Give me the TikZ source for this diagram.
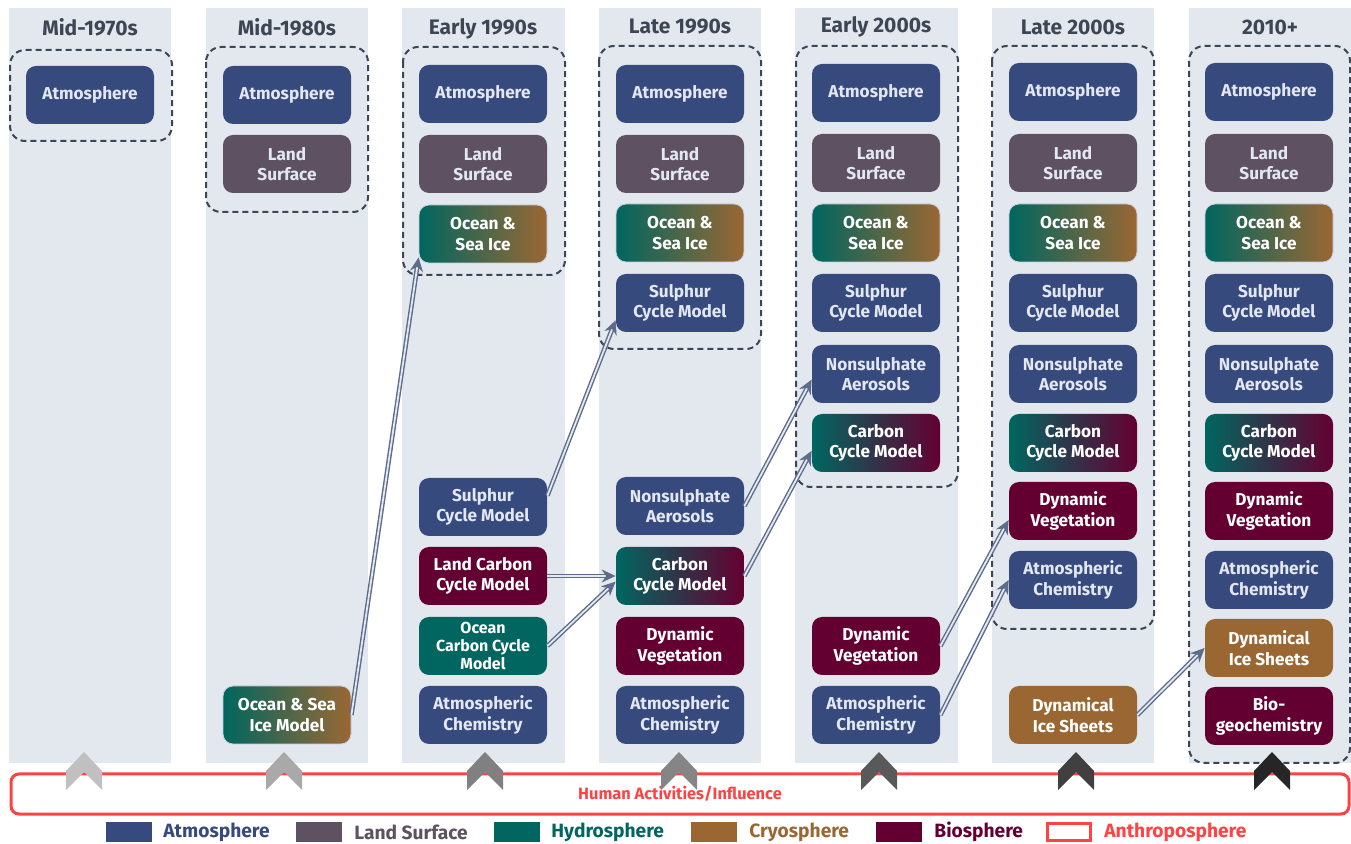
\documentclass[tikz,border=0pt]{standalone}
\usepackage{fontspec}
\setmainfont{Fira Sans}
\usetikzlibrary{arrows.meta}
\definecolor{atmc}{HTML}{364A7E}
\definecolor{landc}{HTML}{5E5161}
\definecolor{hydroc}{HTML}{00665F}
\definecolor{cryoc}{HTML}{9A6733}
\definecolor{bioc}{HTML}{640031}
\definecolor{colbg}{HTML}{E3E7EE}
\definecolor{dashc}{HTML}{3D4656}
\definecolor{titlec}{HTML}{3E4553}
\definecolor{redc}{HTML}{FF4343}
\definecolor{arrc}{HTML}{5C6C8A}
\definecolor{arrin}{HTML}{E4E8F0}
\definecolor{boxtxt}{HTML}{E2E7F2}
\definecolor{edgec}{HTML}{C9D1E3}
\definecolor{chA}{HTML}{C0C0C0}
\definecolor{chB}{HTML}{A9A9A9}
\definecolor{chC}{HTML}{808080}
\definecolor{chD}{HTML}{858585}
\definecolor{chE}{HTML}{595959}
\definecolor{chF}{HTML}{404040}
\definecolor{chG}{HTML}{262626}
\begin{document}
\begin{tikzpicture}[x=0.5pt,y=-0.5pt,
  coltitle/.style={font=\bfseries\fontsize{10.5}{12}\selectfont, text=titlec, inner sep=0pt},
  group/.style={draw=dashc, line width=1pt, dash pattern=on 3pt off 2pt, rounded corners=7.5pt},
  box/.style={rounded corners=5pt, minimum width=64pt, minimum height=29pt, inner sep=1pt, align=center, font=\bfseries\fontsize{8.6}{10.3}\selectfont, text=boxtxt},
  atm/.style={box, fill=atmc},
  lnd/.style={box, fill=landc},
  hyd/.style={box, fill=hydroc, text=white},
  cry/.style={box, fill=cryoc, text=white},
  bio/.style={box, fill=bioc, text=white},
  ocn/.style={box, left color=hydroc, right color=cryoc, text=white, draw=edgec, line width=0.4pt},
  carb/.style={box, left color=hydroc, right color=bioc, text=white},
  arr/.style={draw=arrc, double=arrin, double distance=0.9pt, line width=0.7pt, -{Stealth[length=7pt,width=6.5pt]}},
  swatch/.style={minimum width=23pt, minimum height=10pt, inner sep=0pt},
  legtext/.style={anchor=west, font=\bfseries\fontsize{9.6}{11}\selectfont, inner sep=0pt}
]
\useasboundingbox (0,0) rectangle (1351,844);
% column backgrounds
\fill[colbg] (9,8) rectangle (171,763);
\fill[colbg] (206,8) rectangle (368,763);
\fill[colbg] (402,8) rectangle (565,763);
\fill[colbg] (599,8) rectangle (761,763);
\fill[colbg] (795,8) rectangle (958,763);
\fill[colbg] (992,8) rectangle (1154,763);
\fill[colbg] (1189,8) rectangle (1351,763);
% titles
\node[coltitle] (t1) at (90,27) {Mid-1970s};
\node[coltitle] (t2) at (287,27) {Mid-1980s};
\node[coltitle] (t3) at (483,29) {Early 1990s};
\node[coltitle] (t4) at (680,27) {Late 1990s};
\node[coltitle] (t5) at (876,27) {Early 2000s};
\node[coltitle] (t6) at (1073,27) {Late 2000s};
\node[coltitle] (t7) at (1270,27) {2010+};
% dashed groups
\draw[group] (10,50) rectangle (172,141);
\draw[group] (206,47) rectangle (368,212);
\draw[group] (403,47) rectangle (565,275);
\draw[group] (599,46) rectangle (761,349);
\draw[group] (796,46) rectangle (958,487);
\draw[group] (992,46) rectangle (1154,629);
\draw[group] (1189,46) rectangle (1350,763);
% column 1
\node[atm] (c1atm) at (90,95) {Atmosphere};
% column 2
\node[atm] (c2atm) at (287,95) {Atmosphere};
\node[lnd] (c2lnd) at (287,164) {Land\\Surface};
\node[ocn] (c2ocn) at (287,715) {Ocean \& Sea\\Ice Model};
% column 3
\node[atm] (c3atm) at (483,94) {Atmosphere};
\node[lnd] (c3lnd) at (483,164) {Land\\Surface};
\node[ocn] (c3ocn) at (483,234) {Ocean \&\\Sea Ice};
\node[atm] (c3sul) at (483,507) {Sulphur\\Cycle Model};
\node[bio] (c3lcc) at (483,576) {Land Carbon\\Cycle Model};
\node[hyd, font=\bfseries\fontsize{8}{9}\selectfont] (c3occ) at (483,646) {Ocean\\Carbon Cycle\\Model};
\node[atm] (c3ach) at (483,715) {Atmospheric\\Chemistry};
% column 4
\node[atm] (c4atm) at (680,94) {Atmosphere};
\node[lnd] (c4lnd) at (680,164) {Land\\Surface};
\node[ocn] (c4ocn) at (680,233) {Ocean \&\\Sea Ice};
\node[atm] (c4sul) at (680,303) {Sulphur\\Cycle Model};
\node[atm] (c4nsa) at (680,506) {Nonsulphate\\Aerosols};
\node[carb] (c4ccm) at (680,576) {Carbon\\Cycle Model};
\node[bio] (c4dv) at (680,646) {Dynamic\\Vegetation};
\node[atm] (c4ach) at (680,715) {Atmospheric\\Chemistry};
% column 5
\node[atm] (c5atm) at (876,93) {Atmosphere};
\node[lnd] (c5lnd) at (876,163) {Land\\Surface};
\node[ocn] (c5ocn) at (876,233) {Ocean \&\\Sea Ice};
\node[atm] (c5sul) at (876,303) {Sulphur\\Cycle Model};
\node[atm] (c5nsa) at (876,374) {Nonsulphate\\Aerosols};
\node[carb] (c5ccm) at (876,443) {Carbon\\Cycle Model};
\node[bio] (c5dv) at (876,646) {Dynamic\\Vegetation};
\node[atm] (c5ach) at (876,715) {Atmospheric\\Chemistry};
% column 6
\node[atm] (c6atm) at (1073,92) {Atmosphere};
\node[lnd] (c6lnd) at (1073,163) {Land\\Surface};
\node[ocn] (c6ocn) at (1073,233) {Ocean \&\\Sea Ice};
\node[atm] (c6sul) at (1073,303) {Sulphur\\Cycle Model};
\node[atm] (c6nsa) at (1073,374) {Nonsulphate\\Aerosols};
\node[carb] (c6ccm) at (1073,443) {Carbon\\Cycle Model};
\node[bio] (c6dv) at (1073,511) {Dynamic\\Vegetation};
\node[atm] (c6ach) at (1073,580) {Atmospheric\\Chemistry};
\node[cry] (c6dis) at (1073,715) {Dynamical\\Ice Sheets};
% column 7
\node[atm] (c7atm) at (1269,92) {Atmosphere};
\node[lnd] (c7lnd) at (1269,163) {Land\\Surface};
\node[ocn] (c7ocn) at (1269,233) {Ocean \&\\Sea Ice};
\node[atm] (c7sul) at (1269,303) {Sulphur\\Cycle Model};
\node[atm] (c7nsa) at (1269,374) {Nonsulphate\\Aerosols};
\node[carb] (c7ccm) at (1269,443) {Carbon\\Cycle Model};
\node[bio] (c7dv) at (1269,511) {Dynamic\\Vegetation};
\node[atm] (c7ach) at (1269,580) {Atmospheric\\Chemistry};
\node[cry] (c7dis) at (1269,648) {Dynamical\\Ice Sheets};
\node[bio] (c7bgc) at (1269,716) {Bio-\\geochemistry};
% arrows
\draw[arr] (c2ocn.east) -- (c3ocn.200);
\draw[arr] (c3sul.10) -- (c4sul.195);
\draw[arr] (c3lcc.east) -- (c4ccm.west);
\draw[arr] (c3occ.east) -- (c4ccm.185);
\draw[arr] (c4nsa.east) -- (c5nsa.185);
\draw[arr] (c4ccm.east) -- (c5ccm.187);
\draw[arr] (c5dv.east) -- (c6dv.188);
\draw[arr] (c5ach.east) -- (c6ach.west);
\draw[arr] (c6dis.east) -- (c7dis.west);
% human activities
\node[draw=redc, line width=1.5pt, rounded corners=4pt, minimum width=669pt, minimum height=20pt, text=redc, font=\bfseries\fontsize{8.2}{9}\selectfont] (human) at (680,794) {Human Activities/Influence};
% chevrons
\foreach \x/\c in {84/chA, 284/chB, 485/chC, 679/chD, 879/chE, 1076/chF, 1272/chG}
  \fill[\c] (\x,752) -- (\x+18,771) -- (\x+18,790) -- (\x,772) -- (\x-18,790) -- (\x-18,771) -- cycle;
% legend
\node[swatch, fill=atmc] (l1) at (129,832) {};
\node[legtext, text=atmc] (lt1) at (163,832) {Atmosphere};
\node[swatch, fill=landc] (l2) at (319,832) {};
\node[legtext, text=landc] (lt2) at (354,832) {Land Surface};
\node[swatch, fill=hydroc] (l3) at (516.5,832) {};
\node[legtext, text=hydroc] (lt3) at (551,832) {Hydrosphere};
\node[swatch, fill=cryoc] (l4) at (713.5,832) {};
\node[legtext, text=cryoc] (lt4) at (749,832) {Cryosphere};
\node[swatch, fill=bioc] (l5) at (899,832) {};
\node[legtext, text=bioc] (lt5) at (934,832) {Biosphere};
\node[swatch, draw=redc, fill=white, line width=1.5pt, minimum width=21.5pt, minimum height=8.5pt] (l6) at (1069,832) {};
\node[legtext, text=redc] (lt6) at (1104,832) {Anthroposphere};
\end{tikzpicture}
\end{document}
